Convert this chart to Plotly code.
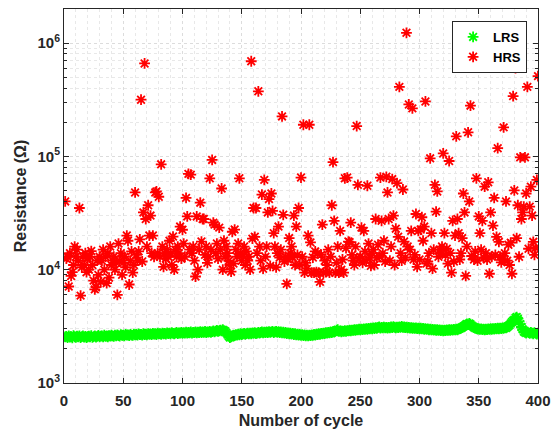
import plotly.graph_objects as go

# Cycle numbers
cycles = list(range(1, 401))

# LRS resistance (kOhm), cycles 1..400
lrs_k = [
    2.55, 2.58, 2.52, 2.60, 2.54, 2.57, 2.50, 2.62, 2.56, 2.53, 2.59, 2.55, 2.61, 2.52, 2.57, 2.60, 2.54, 2.58, 2.51, 2.56,
    2.59, 2.55, 2.62, 2.53, 2.57, 2.60, 2.54, 2.58, 2.63, 2.56, 2.59, 2.61, 2.55, 2.64, 2.58, 2.60, 2.56, 2.62, 2.59, 2.65,
    2.61, 2.58, 2.64, 2.60, 2.66, 2.62, 2.59, 2.67, 2.63, 2.65, 2.61, 2.68, 2.64, 2.66, 2.62, 2.69, 2.65, 2.63, 2.70, 2.66,
    2.68, 2.64, 2.71, 2.67, 2.69, 2.65, 2.72, 2.68, 2.70, 2.66, 2.73, 2.69, 2.71, 2.67, 2.74, 2.70, 2.72, 2.68, 2.75, 2.71,
    2.73, 2.69, 2.76, 2.72, 2.74, 2.70, 2.77, 2.73, 2.75, 2.71, 2.78, 2.74, 2.72, 2.76, 2.79, 2.73, 2.77, 2.75, 2.80, 2.74,
    2.78, 2.76, 2.81, 2.75, 2.79, 2.77, 2.82, 2.76, 2.80, 2.78, 2.83, 2.77, 2.81, 2.79, 2.84, 2.78, 2.82, 2.80, 2.85, 2.79,
    2.83, 2.81, 2.86, 2.80, 2.84, 2.88, 2.82, 2.87, 2.91, 2.85, 2.89, 2.93, 2.88, 2.95, 2.90, 2.86, 2.78, 2.68, 2.58, 2.52,
    2.55, 2.60, 2.64, 2.62, 2.67, 2.65, 2.70, 2.66, 2.72, 2.68, 2.71, 2.74, 2.69, 2.73, 2.76, 2.71, 2.75, 2.72, 2.77, 2.74,
    2.78, 2.73, 2.76, 2.80, 2.75, 2.79, 2.82, 2.77, 2.81, 2.78, 2.83, 2.79, 2.84, 2.80, 2.82, 2.85, 2.78, 2.83, 2.86, 2.80,
    2.84, 2.79, 2.82, 2.77, 2.81, 2.75, 2.79, 2.73, 2.77, 2.72, 2.76, 2.70, 2.74, 2.68, 2.72, 2.66, 2.70, 2.64, 2.68, 2.63,
    2.67, 2.62, 2.66, 2.61, 2.65, 2.60, 2.64, 2.62, 2.66, 2.63, 2.68, 2.65, 2.70, 2.67, 2.72, 2.69, 2.74, 2.71, 2.76, 2.73,
    2.78, 2.75, 2.80, 2.77, 2.82, 2.79, 2.84, 2.81, 2.86, 2.92, 2.95, 2.85, 2.88, 2.83, 2.87, 2.85, 2.89, 2.86, 2.90, 2.88,
    2.92, 2.89, 2.93, 2.91, 2.95, 2.92, 2.96, 2.94, 2.98, 2.95, 2.99, 2.96, 3.00, 2.97, 3.02, 2.98, 3.03, 3.00, 3.05, 3.01,
    3.06, 3.02, 3.08, 3.04, 3.10, 3.12, 3.05, 3.09, 3.06, 3.11, 3.07, 3.10, 3.05, 3.09, 3.06, 3.12, 3.08, 3.14, 3.10, 3.07,
    3.11, 3.08, 3.13, 3.09, 3.15, 3.10, 3.12, 3.08, 3.11, 3.06, 3.09, 3.05, 3.08, 3.04, 3.07, 3.03, 3.06, 3.02, 3.05, 3.01,
    3.04, 3.00, 3.03, 2.98, 3.02, 2.97, 3.00, 2.95, 2.99, 2.94, 2.97, 2.93, 2.96, 2.92, 2.95, 2.91, 2.94, 2.90, 2.93, 2.89,
    2.92, 2.90, 2.94, 2.91, 2.95, 2.92, 2.96, 2.93, 2.97, 2.94, 2.98, 2.95, 2.99, 3.02, 3.06, 3.10, 3.15, 3.20, 3.26, 3.32,
    3.28, 3.35, 3.30, 3.22, 3.16, 3.10, 3.05, 3.02, 2.99, 3.01, 2.97, 3.00, 2.96, 2.99, 2.95, 2.98, 2.96, 3.00, 2.97, 3.01,
    2.98, 3.02, 2.99, 3.03, 3.00, 3.04, 3.01, 3.05, 3.02, 3.06, 3.04, 3.08, 3.06, 3.12, 3.18, 3.25, 3.35, 3.45, 3.55, 3.62,
    3.75, 3.82, 3.70, 3.50, 3.30, 3.12, 2.98, 2.85, 2.80, 2.76, 2.82, 2.78, 2.74, 2.80, 2.76, 2.72, 2.78, 2.74, 2.70, 2.76,
]

# HRS resistance (kOhm), cycles 1..400
hrs_k = [
    40, 12.5, 13, 7.1, 14, 8.8, 9.5, 11, 16, 13,
    15, 12, 35, 5.9, 10.5, 13, 11, 14, 9.5, 12.5,
    10, 13, 14.6, 11, 8, 6.7, 7, 12, 9, 13,
    7.8, 12, 15, 10, 13, 7.6, 14, 8.5, 16, 11,
    12, 13, 10, 11.5, 6.0, 17, 12, 14, 9, 11.5,
    13, 10.5, 20, 18, 7.4, 12, 14.5, 9.4, 11, 48,
    13.5, 12, 14.5, 18.5, 316, 11.8, 32, 660, 28, 16,
    37, 20, 30, 14, 20, 13, 48, 49, 14, 44,
    13, 85, 16, 10.6, 14, 12.5, 15, 13, 18, 14,
    11, 19.6, 10, 15, 13, 16, 14, 24, 12.5, 22.5,
    17, 13, 43, 29.5, 70, 15, 69, 14, 16, 12,
    8.7, 29.5, 10, 15, 39, 17.7, 28, 28, 13.5, 16,
    11.5, 13, 64, 15, 93, 26, 25, 14, 17, 12.5,
    23.5, 15, 52, 10, 18, 13, 16, 14, 12, 11,
    9.6, 21.6, 11.3, 22.6, 15, 13, 17, 64, 14, 12,
    13.5, 16, 11, 14.5, 12, 13, 10, 690, 18.8, 35,
    19.5, 35, 14, 375, 16, 12, 46, 10.2, 62, 13,
    16, 32, 42, 10.8, 47, 33, 21, 16, 10.5, 14,
    24, 12.8, 15, 225, 30.5, 11.8, 13, 7.5, 12.3, 19,
    14, 16, 12.8, 30, 11, 24, 13.5, 35, 11, 65,
    13, 190, 9.4, 11.5, 10.2, 20, 190, 17.4, 9.4, 12.8,
    9.4, 14.5, 9.5, 14, 9.4, 7.8, 13.5, 25, 9.4, 12,
    9.5, 11, 15, 9.4, 13, 37, 89, 27, 9.4, 11.5,
    16, 9.4, 22, 10, 12.3, 9.4, 64, 15.5, 65, 17.7,
    17.5, 26, 13.5, 12, 11, 16, 185, 56, 12.5, 13,
    23.5, 11.5, 22, 14.5, 12, 55, 17, 12.8, 10.8, 14,
    15, 11, 28, 12.8, 16.6, 13, 65, 27, 14, 18,
    11.8, 66, 48, 28, 12, 16, 63, 30, 11, 23,
    58, 19.5, 410, 14, 12, 51, 17.7, 12.8, 1230, 16,
    287, 15, 22, 265, 12.3, 13.5, 31, 10.6, 22, 12.3,
    22.6, 29, 18, 24, 305, 11.3, 11.8, 14, 96, 21,
    10.2, 15, 56, 32.5, 49, 13, 15, 14, 16, 106,
    21, 13.5, 15.3, 11.3, 91, 14, 9.4, 27, 11.8, 20,
    150, 28, 21, 12.3, 14, 19, 47, 32, 8.8, 16,
    163, 40, 280, 13.2, 650, 12.3, 14.5, 64, 12, 29.5,
    21, 15, 27, 12.8, 54, 14, 12.3, 59, 9.2, 32,
    13, 24.5, 43, 13.5, 19.5, 118, 17.6, 13, 11.6, 12.3,
    180, 14, 40, 12, 16.6, 11, 17.3, 9.2, 340, 50,
    600, 19, 37, 13, 98, 28, 32, 36, 98, 47,
    410, 15.3, 36, 54, 30, 17.6, 13.5, 15.6, 62, 510,
]

lrs = [v * 1000 for v in lrs_k]
hrs = [v * 1000 for v in hrs_k]

x_ticks = [0, 50, 100, 150, 200, 250, 300, 350, 400]

fig = go.Figure()
fig.add_trace(go.Scatter(
    x=cycles, y=lrs, mode="markers", name="LRS",
    marker=dict(symbol="asterisk-open", size=9, color="#00FF00",
                line=dict(color="#00FF00", width=1.8)),
))
fig.add_trace(go.Scatter(
    x=cycles, y=hrs, mode="markers", name="HRS",
    marker=dict(symbol="asterisk-open", size=9, color="#FF0000",
                line=dict(color="#FF0000", width=1.8)),
))

FONT = "Liberation Sans, Arial, sans-serif"
axis_font = dict(family=FONT, size=15, color="#262626", weight="bold")
title_font = dict(family=FONT, size=16, color="#262626", weight="bold")

fig.update_layout(
    width=559, height=431,
    margin=dict(l=64, r=21, t=9, b=48),
    paper_bgcolor="white", plot_bgcolor="white",
    showlegend=True, hovermode=False,
    legend=dict(
        x=0.977, y=0.968, xanchor="right", yanchor="top",
        bordercolor="#262626", borderwidth=1, bgcolor="white",
        font=dict(family=FONT, size=13, color="#000000", weight="bold"),
        itemwidth=30, tracegroupgap=0,
    ),
    xaxis=dict(
        range=[0, 400], tickvals=x_ticks, ticktext=[str(t) for t in x_ticks],
        showline=True, linecolor="#262626", linewidth=1, mirror="ticks",
        ticks="inside", ticklen=5, tickcolor="#262626",
        showgrid=True, gridcolor="#dcdcdc", griddash="dot", gridwidth=1,
        minor=dict(dtick=10, showgrid=True, gridcolor="#e8e8e8", griddash="dot", ticks=""),
        zeroline=False, automargin=False,
        tickfont=axis_font, ticklabelstandoff=4,
        title=dict(text="Number of cycle", font=title_font, standoff=6),
    ),
    yaxis=dict(
        type="log", range=[3, 6.3],
        tickvals=[1e3, 1e4, 1e5, 1e6],
        ticktext=["10<sup>3</sup>", "10<sup>4</sup>", "10<sup>5</sup>", "10<sup>6</sup>"],
        showline=True, linecolor="#262626", linewidth=1, mirror="ticks",
        ticks="inside", ticklen=5, tickcolor="#262626",
        showgrid=True, gridcolor="#dcdcdc", griddash="dot", gridwidth=1,
        minor=dict(dtick="D1", showgrid=True, gridcolor="#e8e8e8", griddash="dot",
                   ticks="inside", ticklen=3, tickcolor="#262626"),
        zeroline=False, automargin=False,
        tickfont=axis_font,
        title=dict(text="Resistance (Ω)", font=title_font, standoff=6),
    ),
)

fig.write_html("out.html", config={"displayModeBar": False},
               post_script="document.body.style.margin='0px';")
